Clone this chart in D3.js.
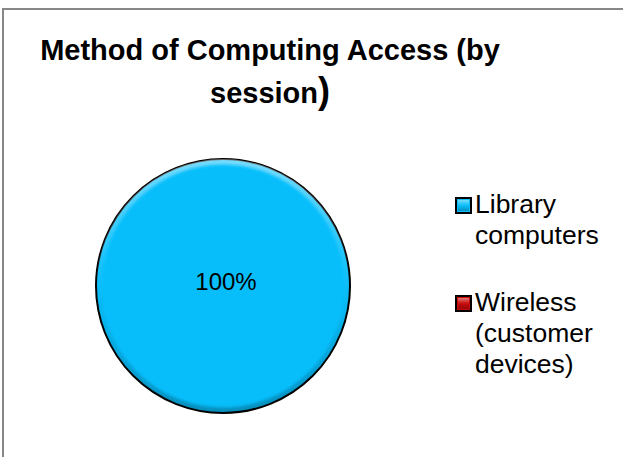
<!DOCTYPE html>
<html>
<head>
<meta charset="utf-8">
<script src="https://cdn.jsdelivr.net/npm/d3@7"></script>
<style>
  body { margin: 0; background: #fff; }
  svg { display: block; font-family: "Liberation Sans", Arial, sans-serif; }
</style>
</head>
<body>
<svg width="623" height="457"></svg>
<script>
const categories = ["Library computers", "Wireless (customer devices)"];
const values = [100, 0];
const legendLines = [["Library", "computers"], ["Wireless", "(customer", "devices)"]];
const titleLines = ["Method of Computing Access (by", "session"];

const colors = ["#07BEFB", "#C80A0A"];

const width = 623;
const height = 457;
const cx = 223, cy = 286, radius = 127;

const svg = d3.select("svg");
const defs = svg.append("defs");

// bevel gradient for the edge of the pie
const bevel = defs.append("linearGradient")
  .attr("id", "bevel")
  .attr("x1", 0).attr("y1", 0).attr("x2", 0).attr("y2", 1);
bevel.append("stop").attr("offset", "0%").attr("stop-color", "#fff").attr("stop-opacity", 0.45);
bevel.append("stop").attr("offset", "45%").attr("stop-color", "#fff").attr("stop-opacity", 0.05);
bevel.append("stop").attr("offset", "60%").attr("stop-color", "#000").attr("stop-opacity", 0.04);
bevel.append("stop").attr("offset", "100%").attr("stop-color", "#000").attr("stop-opacity", 0.25);

defs.append("filter").attr("id", "soft")
  .append("feGaussianBlur").attr("stdDeviation", 1.5);

defs.append("clipPath").attr("id", "pieclip")
  .append("circle").attr("cx", cx).attr("cy", cy).attr("r", radius);

// chart frame
svg.append("rect")
  .attr("x", 3).attr("y", 9)
  .attr("width", 700).attr("height", 600)
  .attr("fill", "none")
  .attr("stroke", "#878787")
  .attr("stroke-width", 2);

// title
const title = svg.append("text")
  .attr("text-anchor", "middle")
  .attr("font-weight", "bold")
  .attr("font-size", 29)
  .attr("fill", "#000");
title.append("tspan").attr("x", 270).attr("y", 60).text(titleLines[0]);
const t2 = title.append("tspan").attr("x", 270).attr("y", 103).text(titleLines[1]);
t2.append("tspan").attr("font-size", 36).attr("dy", 0).text(")");

// pie
const color = d3.scaleOrdinal().domain(categories).range(colors);
const pie = d3.pie().sort(null).value(d => d.value);
const arcs = pie(categories.map((c, i) => ({ name: c, value: values[i] })));
const arc = d3.arc().innerRadius(0).outerRadius(radius);

const g = svg.append("g").attr("transform", `translate(${cx},${cy})`);

g.selectAll("path.slice")
  .data(arcs.filter(d => d.data.value > 0))
  .join("path")
  .attr("class", "slice")
  .attr("d", arc)
  .attr("fill", d => color(d.data.name));

// bevel ring
svg.append("g").attr("clip-path", "url(#pieclip)")
  .append("circle")
  .attr("cx", cx).attr("cy", cy).attr("r", radius - 2)
  .attr("fill", "none")
  .attr("stroke", "url(#bevel)")
  .attr("stroke-width", 7)
  .attr("filter", "url(#soft)");

g.selectAll("path.outline")
  .data(arcs.filter(d => d.data.value > 0))
  .join("path")
  .attr("class", "outline")
  .attr("d", arc)
  .attr("fill", "none")
  .attr("stroke", "#000")
  .attr("stroke-width", 2);

const total = d3.sum(values);
g.selectAll("text.lbl")
  .data(arcs.filter(d => d.data.value > 0))
  .join("text")
  .attr("class", "lbl")
  .attr("transform", d => {
    const full = d.endAngle - d.startAngle >= 2 * Math.PI - 1e-6;
    const p = full ? [0, 0] : d3.arc().innerRadius(radius * 0.5).outerRadius(radius * 0.5).centroid(d);
    return `translate(${p[0] + 3},${p[1] + 4})`;
  })
  .attr("text-anchor", "middle")
  .attr("font-size", 24)
  .attr("fill", "#000")
  .text(d => d3.format(".0%")(d.data.value / total));

// legend
const legendY = [213, 311];
const legend = svg.append("g");
const items = legend.selectAll("g")
  .data(categories)
  .join("g")
  .attr("transform", (d, i) => `translate(456,${legendY[i]})`);

items.append("rect")
  .attr("x", 0).attr("y", -15)
  .attr("width", 15).attr("height", 15)
  .attr("fill", d => color(d))
  .attr("stroke", "#000")
  .attr("stroke-width", 2);

items.append("rect")
  .attr("x", 2).attr("y", -13)
  .attr("width", 11).attr("height", 11)
  .attr("fill", "url(#bevel)");

items.append("text")
  .attr("font-size", 26.5)
  .attr("fill", "#000")
  .selectAll("tspan")
  .data((d, i) => legendLines[i])
  .join("tspan")
  .attr("x", 19)
  .attr("y", (d, j) => j * 31)
  .text(d => d);
</script>
</body>
</html>
